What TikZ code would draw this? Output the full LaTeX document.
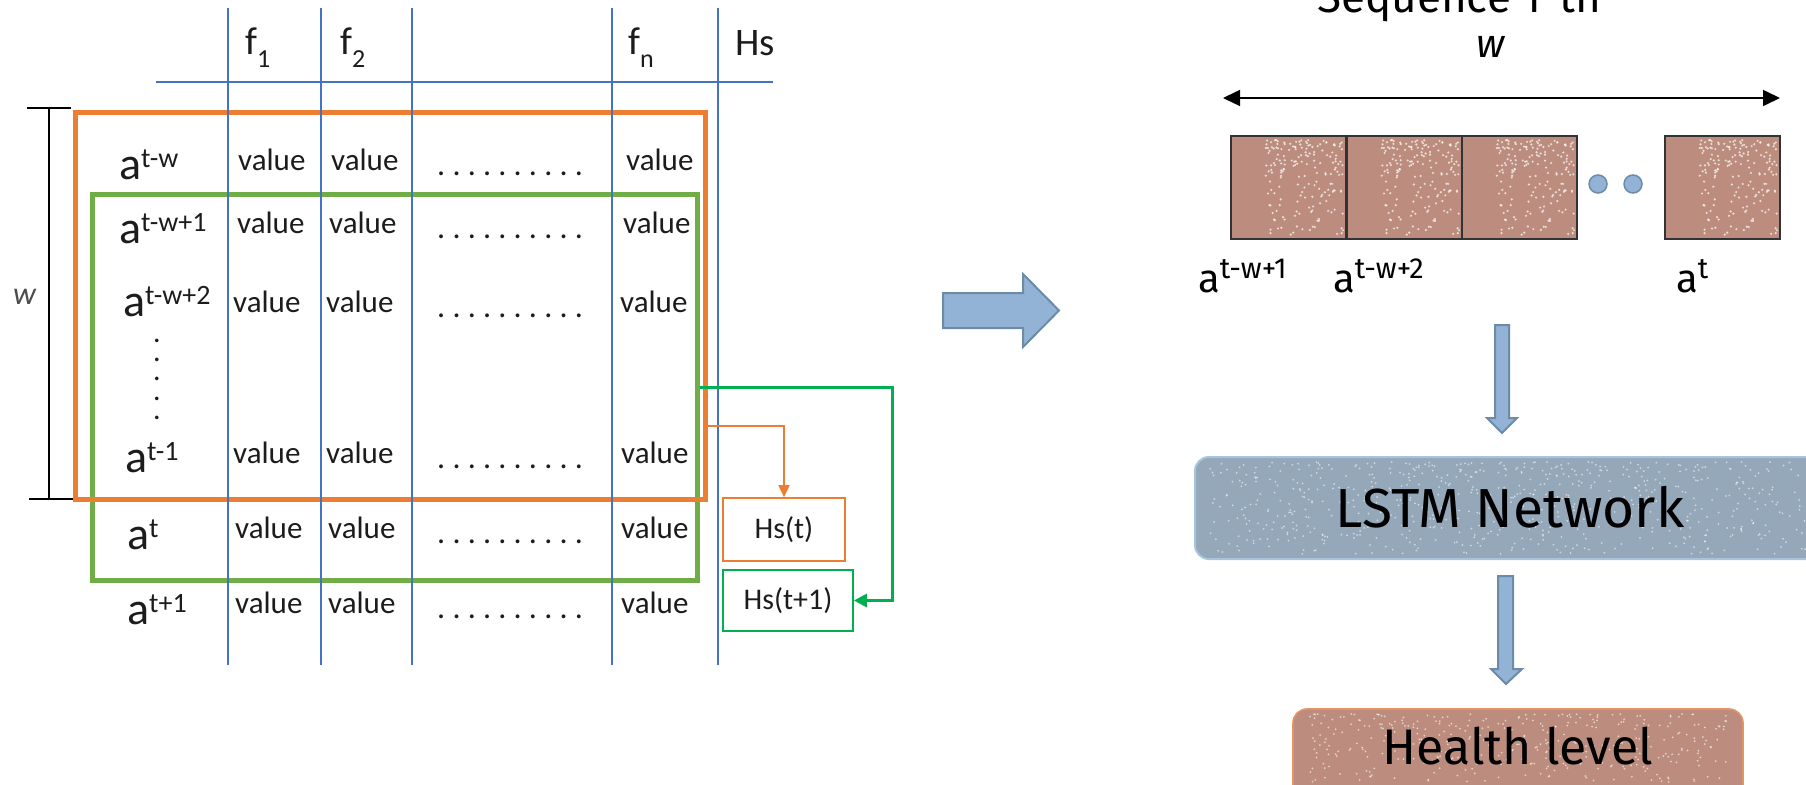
\documentclass[tikz,border=0pt]{standalone}
\usepackage{fontspec}
\usetikzlibrary{arrows.meta,calc}
\newfontfamily\calfont{Carlito}
\newfontfamily\firafont{Fira Sans}

\definecolor{gridblue}{HTML}{4472C4}
\definecolor{winorange}{HTML}{ED7D31}
\definecolor{wingreen}{HTML}{70AD47}
\definecolor{nextgreen}{HTML}{00B050}
\definecolor{tilebrown}{HTML}{BC8D7E}
\definecolor{lstmfill}{HTML}{94A8BA}
\definecolor{lstmedge}{HTML}{A7C3DD}
\definecolor{arrowfill}{HTML}{93B3D6}
\definecolor{arrowedge}{HTML}{6B8BA7}
\definecolor{healthedge}{HTML}{E39462}
\definecolor{inkgray}{HTML}{1C1C1C}

% row label a^{...} of the data table
\newcommand\tabrow[1]{{\calfont\fontsize{46}{50}\selectfont a}\raisebox{12pt}{\calfont\fontsize{28}{30}\selectfont #1}}
% feature header f_{...}
\newcommand\featlab[1]{{\calfont\fontsize{39}{44}\selectfont f}\raisebox{-13pt}{\calfont\fontsize{26}{30}\selectfont #1}}
% sample label under the image tiles
\newcommand\seqlab[1]{{\firafont\fontsize{40}{44}\selectfont a}\raisebox{14pt}{\firafont\fontsize{29}{30}\selectfont #1}}

\tikzset{
  cell/.style={anchor=base west, inner sep=0, font=\calfont\fontsize{31}{36}\selectfont, text=inkgray},
  dotrow/.style={anchor=base west, inner sep=0, font=\calfont\frenchspacing\fontsize{32}{36}\selectfont, text=inkgray},
  lab/.style={anchor=base west, inner sep=0, text=inkgray},
  gridline/.style={gridblue, line width=1.3pt},
  window/.style={draw, line width=5pt, inner sep=0},
  hsbox/.style={draw, line width=1.6pt, inner sep=0, font=\calfont\fontsize{30}{36}\selectfont, text=inkgray},
  tile/.style={draw=black!80, line width=1.5pt, fill=tilebrown, minimum width=115pt, minimum height=103pt, inner sep=0},
  blockarrow/.style={fill=arrowfill, draw=arrowedge, line width=2pt, line join=miter},
  speck/.style={white, opacity=0.7},
}

\begin{document}
\begin{tikzpicture}[x=1pt,y=-1pt]
\useasboundingbox (0,0) rectangle (1806,784);
\clip (0,0) rectangle (1806,784);

% ---------- sliding windows over the data table ----------
\node[window, draw=wingreen, minimum width=605pt, minimum height=386pt] (grn) at (394.5,387) {};
\node[window, draw=winorange, minimum width=630pt, minimum height=387pt] (orng) at (390,305.5) {};

% table grid
\foreach \gx in {228,321,412,612,718} \draw[gridline] (\gx,8) -- (\gx,665);
\draw[gridline] (156,82) -- (773,82);

% window-length bracket
\coordinate (brT) at (49,108);
\coordinate (brB) at (49,499);
\draw[line width=2pt] (brT) -- (brB);
\draw[line width=2.5pt] (27,108) -- (71,108);
\draw[line width=2.5pt] (29,499) -- (73,499);
\node[anchor=base west, inner sep=0, font=\calfont\itshape\fontsize{32}{36}\selectfont, text=black!70] (wl) at (13,304) {w};

% header
\node[lab] (h1) at (245,55) {\featlab{1}};
\node[lab] (h2) at (340,55) {\featlab{2}};
\node[lab] (hn) at (628,55) {\featlab{n}};
\node[lab, font=\calfont\fontsize{39}{44}\selectfont] (hs) at (735,56) {Hs};

% row labels
\node[lab] (r1) at (119,179) {\tabrow{t-w}};
\node[lab] (r2) at (119,243) {\tabrow{t-w+1}};
\node[lab] (r3) at (123,316) {\tabrow{t-w+2}};
\node[lab] (r4) at (125,472) {\tabrow{t-1}};
\node[lab] (r5) at (127,549) {\tabrow{t}};
\node[lab] (r6) at (127,624) {\tabrow{t+1}};
\foreach \vy in {342,361,380,400,419}
  \node[anchor=base, inner sep=0, font=\calfont\fontsize{30}{36}\selectfont, text=inkgray] (vd\vy) at (157,\vy) {.};

% cell values
\foreach \ra/\rb/\rn/\ry [count=\i] in {238/331/626/170, 237/329/623/233, 233/326/620/312, 233/326/621/463, 235/328/621/538, 235/328/621/613} {
  \node[cell] (va\i) at (\ra,\ry) {value};
  \node[cell] (vb\i) at (\rb,\ry) {value};
  \node[cell] (vn\i) at (\rn,\ry) {value};
  \node[dotrow] (vd\i) at (437,\ry+5) {. . . . . . . . . .};
}

% targets
\node[hsbox, draw=winorange, minimum width=122pt, minimum height=63pt] (hso) at (784,529.5) {Hs(t)};
\node[hsbox, draw=nextgreen, minimum width=130pt, minimum height=61pt] (hsg) at (788,600.5) {Hs(t+1)};

\draw[winorange, line width=1.5pt, -{Triangle[length=12pt,width=11pt]}] ([yshift=-120.5pt]orng.east) -| (hso.north);
\draw[nextgreen, line width=3pt, -{Triangle[length=13pt,width=13pt]}] (grn.east) -- ++(193,0) |- (hsg.east);

% ---------- transition arrow ----------
\draw[blockarrow] (943,293) -- (1023,293) -- (1023,274) -- (1059,310.5) -- (1023,347) -- (1023,328) -- (943,328) -- cycle;

% ---------- input sequence ----------
\node[anchor=base, inner sep=0, font=\firafont\fontsize{44}{50}\selectfont] (seqtitle) at (1459,13) {Sequence 1-th};
\node[anchor=base, inner sep=0, font=\firafont\itshape\fontsize{40}{46}\selectfont] (seqw) at (1491,57) {w};
\coordinate (spanL) at (1223,98);
\coordinate (spanR) at (1780,98);
\draw[line width=1.5pt, {Triangle[length=17pt,width=16pt]}-{Triangle[length=17pt,width=16pt]}] (spanL) -- (spanR);

\node[tile] (t1) at (1288.5,187.5) {};
\node[tile] (t2) at (1404.5,187.5) {};
\node[tile] (t3) at (1519.5,187.5) {};
\node[tile] (t4) at (1722.5,187.5) {};
% speckle texture of the tiles
\foreach \tx in {1231,1347,1462,1665} {
  \pgfmathsetseed{42}
  \foreach \k in {1,...,180} {
    \pgfmathsetmacro\sx{\tx+4+108*(0.28+0.72*rnd)}
    \pgfmathsetmacro\sy{140+95*pow(rnd,1.6)}
    \fill[speck] (\sx,\sy) circle (1.2pt);
  }
}
\node[circle, draw=arrowedge, fill=arrowfill, line width=1.5pt, minimum size=18pt, inner sep=0] (e1) at (1598,184) {};
\node[circle, draw=arrowedge, fill=arrowfill, line width=1.5pt, minimum size=18pt, inner sep=0] (e2) at (1633,184) {};

\node[lab, text=black] (s1) at (1198,292) {\seqlab{t-w+1}};
\node[lab, text=black] (s2) at (1333,292) {\seqlab{t-w+2}};
\node[lab, text=black] (s3) at (1676,292) {\seqlab{t}};

\draw[blockarrow] (1495,325) -- (1509,325) -- (1509,418) -- (1517,418) -- (1502,433) -- (1487,418) -- (1495,418) -- cycle;

% ---------- network ----------
\node[draw=lstmedge, fill=lstmfill, line width=2pt, rounded corners=14pt, minimum width=650pt, minimum height=102pt, inner sep=0] (lstm) at (1520,508) {};
\pgfmathsetseed{7}
\foreach \k in {1,...,650} {
  \pgfmathsetmacro\sx{1210+596*rnd}
  \pgfmathsetmacro\sy{462+92*pow(rnd,1.3)}
  \fill[speck, opacity=0.55] (\sx,\sy) circle (1pt);
}
\node[anchor=base, inner sep=0, font=\firafont\fontsize{55}{60}\selectfont] (lstmtxt) at (1510,527) {LSTM Network};

\draw[blockarrow] (1498,576) -- (1513,576) -- (1513,669) -- (1522,669) -- (1506,684) -- (1491,669) -- (1498,669) -- cycle;

% ---------- output ----------
\node[draw=healthedge, fill=tilebrown, line width=1.6pt, rounded corners=14pt, minimum width=450pt, minimum height=111pt, inner sep=0] (health) at (1518,764.5) {};
\pgfmathsetseed{11}
\foreach \k in {1,...,380} {
  \pgfmathsetmacro\sx{1310+420*rnd}
  \pgfmathsetmacro\sy{714+68*pow(rnd,1.2)}
  \fill[speck, opacity=0.6] (\sx,\sy) circle (1pt);
}
\node[anchor=base, inner sep=0, font=\firafont\fontsize{50}{56}\selectfont] (healthtxt) at (1518,764) {Health level};
\end{tikzpicture}
\end{document}
